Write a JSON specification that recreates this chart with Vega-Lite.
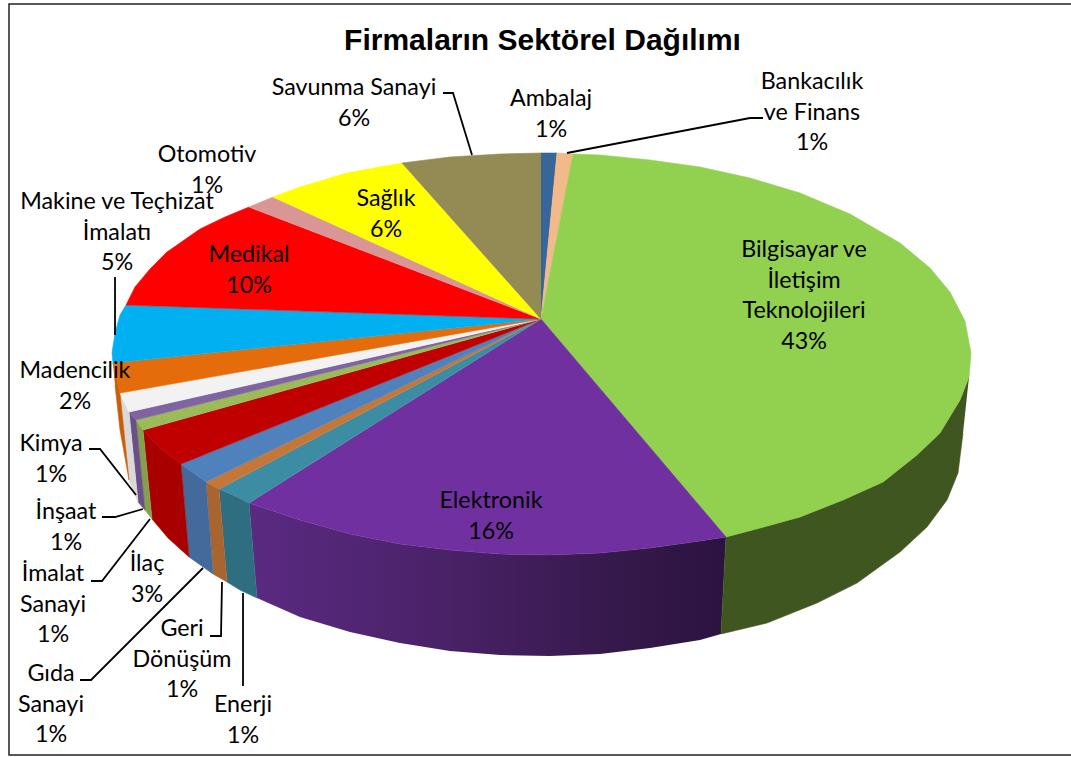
{"$schema":"https://vega.github.io/schema/vega-lite/v6.json","width":1071,"height":757,"padding":0,"autosize":{"type":"none"},"background":"white","config":{"view":{"stroke":null}},
"title":{"text":"Firmaların Sektörel Dağılımı","font":"Liberation Sans","fontSize":30,"fontWeight":"bold","color":"#000000","anchor":"middle","offset":-56,"dx":7},
"datasets":{
"labels":[
{"name":"Ambalaj","pct":1,"text":"Ambalaj\n1%","lx":551,"ly":99},
{"name":"Bankacılık ve Finans","pct":1,"text":"Bankacılık\nve Finans\n1%","lx":812,"ly":82},
{"name":"Bilgisayar ve İletişim Teknolojileri","pct":43,"text":"Bilgisayar ve\nİletişim\nTeknolojileri\n43%","lx":804,"ly":250},
{"name":"Elektronik","pct":16,"text":"Elektronik\n16%","lx":491,"ly":501},
{"name":"Enerji","pct":1,"text":"Enerji\n1%","lx":243,"ly":705},
{"name":"Geri Dönüşüm","pct":1,"text":"Geri\nDönüşüm\n1%","lx":182,"ly":629},
{"name":"Gıda Sanayi","pct":1,"text":"Gıda\nSanayi\n1%","lx":51,"ly":674},
{"name":"İlaç","pct":3,"text":"İlaç\n3%","lx":147,"ly":564},
{"name":"İmalat Sanayi","pct":1,"text":"İmalat\nSanayi\n1%","lx":53,"ly":574},
{"name":"İnşaat","pct":1,"text":"İnşaat\n1%","lx":66,"ly":512},
{"name":"Kimya","pct":1,"text":"Kimya\n1%","lx":51,"ly":444},
{"name":"Madencilik","pct":2,"text":"Madencilik\n2%","lx":75,"ly":371},
{"name":"Makine ve Teçhizat İmalatı","pct":5,"text":"Makine ve Teçhizat\nİmalatı\n5%","lx":117,"ly":202},
{"name":"Medikal","pct":10,"text":"Medikal\n10%","lx":249,"ly":255},
{"name":"Otomotiv","pct":1,"text":"Otomotiv\n1%","lx":207,"ly":155},
{"name":"Sağlık","pct":6,"text":"Sağlık\n6%","lx":386,"ly":199},
{"name":"Savunma Sanayi","pct":6,"text":"Savunma Sanayi\n6%","lx":354,"ly":88}
],
"frame":[{"x":1071,"y":4},{"x":9,"y":4},{"x":9,"y":755},{"x":1071,"y":755}],
"elekSide":[
{"x":249,"y":503},{"x":300,"y":520},{"x":350,"y":534},{"x":400,"y":544},{"x":450,"y":550},{"x":500,"y":554},{"x":550,"y":555},{"x":600,"y":553},{"x":650,"y":548},{"x":700,"y":541},{"x":726,"y":537},
{"x":721,"y":634},{"x":700,"y":640},{"x":650,"y":648},{"x":600,"y":654},{"x":550,"y":656},{"x":500,"y":655},{"x":450,"y":651},{"x":400,"y":643},{"x":350,"y":632},{"x":300,"y":617},{"x":257,"y":598}],
"leaders":[
{"l":"Makine","x":115,"y":277},{"l":"Makine","x":115,"y":335},
{"l":"Kimya","x":89,"y":449},{"l":"Kimya","x":100,"y":449},{"l":"Kimya","x":136,"y":495},
{"l":"İnşaat","x":102,"y":517},{"l":"İnşaat","x":115,"y":517},{"l":"İnşaat","x":143,"y":509},
{"l":"İmalat","x":91,"y":581},{"l":"İmalat","x":102,"y":581},{"l":"İmalat","x":150,"y":519},
{"l":"Gıda","x":80,"y":680},{"l":"Gıda","x":91,"y":680},{"l":"Gıda","x":203,"y":568},
{"l":"Geri","x":210,"y":636},{"l":"Geri","x":221,"y":636},{"l":"Geri","x":222,"y":582},
{"l":"Enerji","x":243,"y":686},{"l":"Enerji","x":243,"y":593},
{"l":"Savunma","x":443,"y":93},{"l":"Savunma","x":453,"y":93},{"l":"Savunma","x":472,"y":155},
{"l":"Bankacılık","x":763,"y":118},{"l":"Bankacılık","x":750,"y":118},{"l":"Bankacılık","x":567,"y":153}],
"slices":[
{"s":"s-Bilgisayar","x":969,"y":377},{"s":"s-Bilgisayar","x":960,"y":400},{"s":"s-Bilgisayar","x":940,"y":433},{"s":"s-Bilgisayar","x":917,"y":455},{"s":"s-Bilgisayar","x":883,"y":482},{"s":"s-Bilgisayar","x":843,"y":500},{"s":"s-Bilgisayar","x":800,"y":517},{"s":"s-Bilgisayar","x":760,"y":528},{"s":"s-Bilgisayar","x":726,"y":537},{"s":"s-Bilgisayar","x":721,"y":634},{"s":"s-Bilgisayar","x":767,"y":623},{"s":"s-Bilgisayar","x":817,"y":603},{"s":"s-Bilgisayar","x":857,"y":583},{"s":"s-Bilgisayar","x":900,"y":552},{"s":"s-Bilgisayar","x":927,"y":527},{"s":"s-Bilgisayar","x":947,"y":500},{"s":"s-Bilgisayar","x":958,"y":473},{"s":"s-Bilgisayar","x":963,"y":433},
{"s":"s-Enerji","x":219,"y":489},{"s":"s-Enerji","x":235,"y":496},{"s":"s-Enerji","x":249,"y":503},{"s":"s-Enerji","x":257,"y":598},{"s":"s-Enerji","x":240,"y":590},{"s":"s-Enerji","x":227,"y":582},
{"s":"s-Geri","x":206,"y":482},{"s":"s-Geri","x":219,"y":489},{"s":"s-Geri","x":227,"y":582},{"s":"s-Geri","x":213,"y":574},
{"s":"s-Gıda","x":181,"y":464},{"s":"s-Gıda","x":206,"y":482},{"s":"s-Gıda","x":213,"y":574},{"s":"s-Gıda","x":189,"y":557},
{"s":"s-İlaç","x":143,"y":430},{"s":"s-İlaç","x":160,"y":448},{"s":"s-İlaç","x":181,"y":464},{"s":"s-İlaç","x":189,"y":557},{"s":"s-İlaç","x":168,"y":538},{"s":"s-İlaç","x":152,"y":519},
{"s":"s-İmalat","x":136,"y":420},{"s":"s-İmalat","x":143,"y":430},{"s":"s-İmalat","x":152,"y":519},{"s":"s-İmalat","x":145,"y":510},
{"s":"s-İnşaat","x":129,"y":412},{"s":"s-İnşaat","x":136,"y":420},{"s":"s-İnşaat","x":145,"y":510},{"s":"s-İnşaat","x":138,"y":502},
{"s":"s-Kimya","x":120,"y":393},{"s":"s-Kimya","x":129,"y":412},{"s":"s-Kimya","x":138,"y":502},{"s":"s-Kimya","x":129,"y":480},
{"s":"s-Madencilik","x":113,"y":363},{"s":"s-Madencilik","x":120,"y":393},{"s":"s-Madencilik","x":129,"y":480},{"s":"s-Madencilik","x":120,"y":430},{"s":"s-Madencilik","x":115,"y":385},
{"s":"Ambalaj","x":541,"y":319},{"s":"Ambalaj","x":541,"y":153},{"s":"Ambalaj","x":557,"y":153},
{"s":"Bankacılık","x":541,"y":319},{"s":"Bankacılık","x":557,"y":153},{"s":"Bankacılık","x":573,"y":154},
{"s":"Bilgisayar","x":541,"y":319},{"s":"Bilgisayar","x":573,"y":154},{"s":"Bilgisayar","x":600,"y":155},{"s":"Bilgisayar","x":650,"y":160},{"s":"Bilgisayar","x":700,"y":167},{"s":"Bilgisayar","x":750,"y":178},{"s":"Bilgisayar","x":800,"y":193},{"s":"Bilgisayar","x":850,"y":214},{"s":"Bilgisayar","x":900,"y":243},{"s":"Bilgisayar","x":930,"y":268},{"s":"Bilgisayar","x":950,"y":292},{"s":"Bilgisayar","x":965,"y":321},{"s":"Bilgisayar","x":971,"y":353},{"s":"Bilgisayar","x":969,"y":377},{"s":"Bilgisayar","x":960,"y":400},{"s":"Bilgisayar","x":940,"y":433},{"s":"Bilgisayar","x":917,"y":455},{"s":"Bilgisayar","x":883,"y":482},{"s":"Bilgisayar","x":843,"y":500},{"s":"Bilgisayar","x":800,"y":517},{"s":"Bilgisayar","x":760,"y":528},{"s":"Bilgisayar","x":726,"y":537},
{"s":"Elektronik","x":541,"y":319},{"s":"Elektronik","x":726,"y":537},{"s":"Elektronik","x":700,"y":541},{"s":"Elektronik","x":650,"y":548},{"s":"Elektronik","x":600,"y":553},{"s":"Elektronik","x":550,"y":555},{"s":"Elektronik","x":500,"y":554},{"s":"Elektronik","x":450,"y":550},{"s":"Elektronik","x":400,"y":544},{"s":"Elektronik","x":350,"y":534},{"s":"Elektronik","x":300,"y":520},{"s":"Elektronik","x":249,"y":503},
{"s":"Enerji","x":541,"y":319},{"s":"Enerji","x":249,"y":503},{"s":"Enerji","x":235,"y":496},{"s":"Enerji","x":219,"y":489},
{"s":"Geri","x":541,"y":319},{"s":"Geri","x":219,"y":489},{"s":"Geri","x":206,"y":482},
{"s":"Gıda","x":541,"y":319},{"s":"Gıda","x":206,"y":482},{"s":"Gıda","x":181,"y":464},
{"s":"İlaç","x":541,"y":319},{"s":"İlaç","x":181,"y":464},{"s":"İlaç","x":160,"y":448},{"s":"İlaç","x":143,"y":430},
{"s":"İmalat","x":541,"y":319},{"s":"İmalat","x":143,"y":430},{"s":"İmalat","x":136,"y":420},
{"s":"İnşaat","x":541,"y":319},{"s":"İnşaat","x":136,"y":420},{"s":"İnşaat","x":129,"y":412},
{"s":"Kimya","x":541,"y":319},{"s":"Kimya","x":129,"y":412},{"s":"Kimya","x":120,"y":393},
{"s":"Madencilik","x":541,"y":319},{"s":"Madencilik","x":120,"y":393},{"s":"Madencilik","x":113,"y":363},
{"s":"Makine","x":541,"y":319},{"s":"Makine","x":113,"y":363},{"s":"Makine","x":112,"y":353},{"s":"Makine","x":115,"y":333},{"s":"Makine","x":120,"y":315},{"s":"Makine","x":126,"y":305},
{"s":"Medikal","x":541,"y":319},{"s":"Medikal","x":126,"y":305},{"s":"Medikal","x":135,"y":287},{"s":"Medikal","x":150,"y":269},{"s":"Medikal","x":167,"y":252},{"s":"Medikal","x":200,"y":229},{"s":"Medikal","x":225,"y":217},{"s":"Medikal","x":249,"y":207},
{"s":"Otomotiv","x":541,"y":319},{"s":"Otomotiv","x":249,"y":207},{"s":"Otomotiv","x":273,"y":197},
{"s":"Sağlık","x":541,"y":319},{"s":"Sağlık","x":273,"y":197},{"s":"Sağlık","x":300,"y":187},{"s":"Sağlık","x":347,"y":173},{"s":"Sağlık","x":402,"y":163},
{"s":"Savunma","x":541,"y":319},{"s":"Savunma","x":402,"y":163},{"s":"Savunma","x":450,"y":157},{"s":"Savunma","x":500,"y":154},{"s":"Savunma","x":541,"y":153}
]},
"layer":[
{"data":{"name":"frame"},"transform":[{"window":[{"op":"row_number","as":"i"}]}],"mark":{"type":"line","stroke":"#222222","strokeWidth":1.5,"clip":true},"encoding":{"x":{"field":"x","type":"quantitative","scale":{"domain":[0,1071],"nice":false,"zero":false},"axis":null},"y":{"field":"y","type":"quantitative","scale":{"domain":[757,0],"nice":false,"zero":false},"axis":null},"order":{"field":"i","type":"quantitative"}}},
{"data":{"name":"elekSide"},"transform":[{"window":[{"op":"row_number","as":"i"}]}],"mark":{"type":"line","filled":true,"stroke":null,"fill":{"gradient":"linear","x1":0,"x2":1,"y1":0,"y2":0,"stops":[{"offset":0,"color":"#5A2A82"},{"offset":0.4,"color":"#4A2268"},{"offset":0.8,"color":"#341849"},{"offset":1,"color":"#2B1340"}]}},"encoding":{"x":{"field":"x","type":"quantitative"},"y":{"field":"y","type":"quantitative"},"order":{"field":"i","type":"quantitative"}}},
{"data":{"name":"slices"},"transform":[{"window":[{"op":"row_number","as":"i"}]}],"mark":{"type":"line","filled":true,"strokeWidth":0.6},"encoding":{"x":{"field":"x","type":"quantitative"},"y":{"field":"y","type":"quantitative"},"order":{"field":"i","type":"quantitative"},
"fill":{"field":"s","type":"nominal","legend":null,"scale":{"domain":["Ambalaj","Bankacılık","Bilgisayar","Elektronik","Enerji","Geri","Gıda","İlaç","İmalat","İnşaat","Kimya","Madencilik","Makine","Medikal","Otomotiv","Sağlık","Savunma","s-Bilgisayar","s-Enerji","s-Geri","s-Gıda","s-İlaç","s-İmalat","s-İnşaat","s-Kimya","s-Madencilik"],"range":["#376699","#F2B98A","#92D050","#7030A0","#3C8DA3","#C5773A","#4F81BD","#C00000","#9BBB59","#8064A2","#F2F2F2","#E46C0A","#00B0F0","#FF0000","#D99694","#FFFF00","#948A54","#3F5620","#2E6E80","#A8652F","#44699B","#A80000","#84A04A","#6B5088","#D9D9D9","#C85F08"]}},
"stroke":{"field":"s","type":"nominal","legend":null,"scale":{"domain":["Ambalaj","Bankacılık","Bilgisayar","Elektronik","Enerji","Geri","Gıda","İlaç","İmalat","İnşaat","Kimya","Madencilik","Makine","Medikal","Otomotiv","Sağlık","Savunma","s-Bilgisayar","s-Enerji","s-Geri","s-Gıda","s-İlaç","s-İmalat","s-İnşaat","s-Kimya","s-Madencilik"],"range":["#376699","#F2B98A","#92D050","#7030A0","#3C8DA3","#C5773A","#4F81BD","#C00000","#9BBB59","#8064A2","#F2F2F2","#E46C0A","#00B0F0","#FF0000","#D99694","#FFFF00","#948A54","#3F5620","#2E6E80","#A8652F","#44699B","#A80000","#84A04A","#6B5088","#D9D9D9","#C85F08"]}}}},
{"data":{"name":"leaders"},"transform":[{"window":[{"op":"row_number","as":"i"}]}],"mark":{"type":"line","stroke":"#000000","strokeWidth":1.8},"encoding":{"x":{"field":"x","type":"quantitative"},"y":{"field":"y","type":"quantitative"},"detail":{"field":"l"},"order":{"field":"i","type":"quantitative"}}},
{"data":{"name":"labels"},"mark":{"type":"text","font":"Lato","fontSize":23.3,"color":"#000000","align":"center","baseline":"middle","lineBreak":"\n","lineHeight":30.7},"encoding":{"x":{"field":"lx","type":"quantitative"},"y":{"field":"ly","type":"quantitative"},"text":{"field":"text"}}}
]}
